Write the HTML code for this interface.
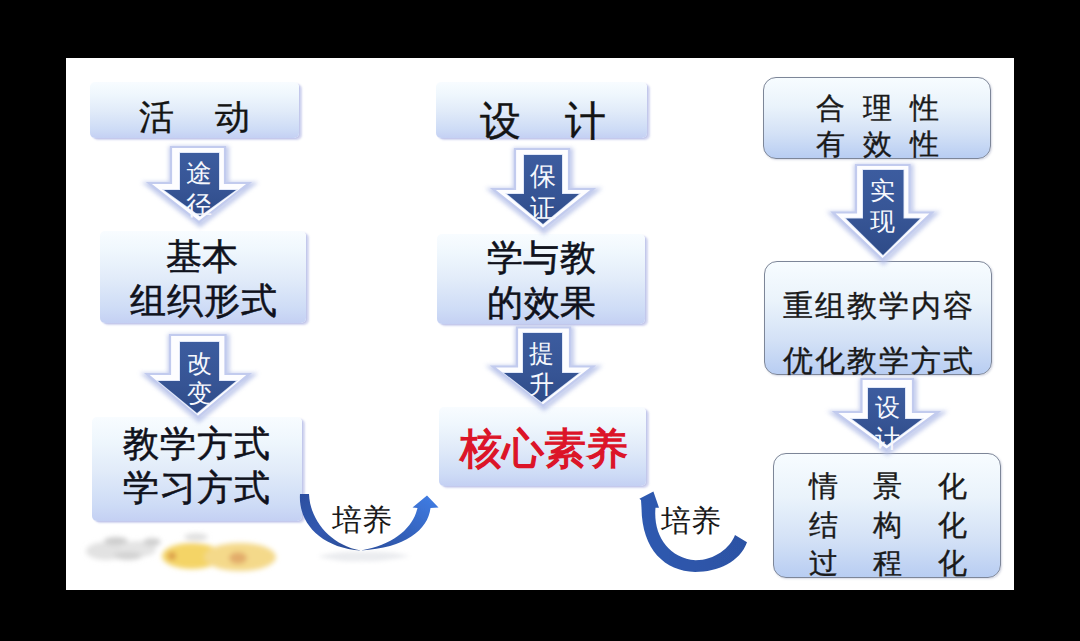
<!DOCTYPE html>
<html><head><meta charset="utf-8"><style>
html,body{margin:0;padding:0}
body{width:1080px;height:641px;background:#000;position:relative;overflow:hidden;font-family:"Liberation Sans",sans-serif}
.slide{position:absolute;left:66px;top:58px;width:948px;height:532px;background:#fff}
.bx{position:absolute;border-radius:5px;background:linear-gradient(180deg,#f8fcff 0%,#eff7fd 22%,#e1ebf9 52%,#cedcf6 84%,#c4d0f3 100%);box-shadow:3px 2px 2px rgba(150,158,220,0.42),1px 1px 1px rgba(170,180,230,0.35)}
.rb{position:absolute;box-sizing:border-box;border-radius:13px;border:1.6px solid #7d8698;background:linear-gradient(180deg,#f7fcff 0%,#eaf3fb 35%,#d3e1f6 70%,#b8cdf2 100%);box-shadow:1px 1px 2px rgba(120,130,170,0.3)}
.tx{position:absolute;white-space:nowrap;z-index:3}
.rg{font-weight:400}
.lt{font-weight:400;-webkit-text-stroke:0.35px currentColor}
.md{font-weight:400;-webkit-text-stroke:0.55px currentColor}
.bd{font-weight:400;-webkit-text-stroke:1.3px currentColor}
.at{position:absolute;color:#f6f8fd;white-space:nowrap;z-index:3}
svg{position:absolute;left:0;top:0}
</style></head><body>
<div class="slide"></div>
<svg width="1080" height="641" style="z-index:0">
<defs>
<filter id="blur4" x="-50%" y="-50%" width="200%" height="200%"><feGaussianBlur stdDeviation="4"/></filter>
<filter id="blur2" x="-50%" y="-50%" width="200%" height="200%"><feGaussianBlur stdDeviation="2.5"/></filter>
</defs>
<g filter="url(#blur2)">
<ellipse cx="106" cy="551" rx="20" ry="9" fill="#e2e2e2"/>
<ellipse cx="116" cy="541" rx="12" ry="4" fill="#cdcdcd"/>
<ellipse cx="138" cy="549" rx="18" ry="8" fill="#e4e4e4"/>
<ellipse cx="128" cy="556" rx="14" ry="4" fill="#d2d2d2"/>
<ellipse cx="152" cy="542" rx="9" ry="4" fill="#d0d0d0"/>
<ellipse cx="196" cy="537" rx="12" ry="3.5" fill="#dedede"/>
<ellipse cx="192" cy="556" rx="30" ry="13" fill="#f4d466"/>
<ellipse cx="240" cy="557" rx="36" ry="14" fill="#f4d98a"/>
<ellipse cx="172" cy="556" rx="4" ry="4" fill="#d99a48"/>
<ellipse cx="238" cy="558" rx="9" ry="6" fill="#e2ac6a"/>
</g>
</svg>
<div class="bx" style="left:90px;top:82px;width:209px;height:56px"></div><div class="bx" style="left:100px;top:231px;width:206px;height:92px"></div><div class="bx" style="left:92px;top:417px;width:210px;height:104px"></div><div class="bx" style="left:436px;top:82px;width:211px;height:56px"></div><div class="bx" style="left:437px;top:234px;width:208px;height:90px"></div><div class="bx" style="left:439px;top:407px;width:207px;height:79px"></div><div class="rb" style="left:763px;top:77px;width:228px;height:82px"></div><div class="rb" style="left:764px;top:261px;width:228px;height:114px"></div><div class="rb" style="left:773px;top:453px;width:228px;height:125px"></div>
<svg width="1080" height="641" style="z-index:1">
<defs>
<filter id="glow" x="-30%" y="-30%" width="160%" height="160%"><feGaussianBlur stdDeviation="2.2"/></filter>
<filter id="soft" x="-30%" y="-30%" width="160%" height="160%"><feGaussianBlur stdDeviation="0.6"/></filter>
<linearGradient id="ag" x1="0" y1="0" x2="0" y2="1"><stop offset="0" stop-color="#3c5c9f"/><stop offset="0.6" stop-color="#365494"/><stop offset="1" stop-color="#2e4b88"/></linearGradient>
<linearGradient id="cg1" x1="0" y1="1" x2="0.8" y2="0"><stop offset="0" stop-color="#2a4d9c"/><stop offset="1" stop-color="#3f7ae0"/></linearGradient>
<linearGradient id="cg0" x1="0" y1="0" x2="1" y2="1"><stop offset="0" stop-color="#2c4fa0"/><stop offset="0.5" stop-color="#3158b0"/><stop offset="1" stop-color="#2a4a90"/></linearGradient>
<linearGradient id="cg2" x1="0" y1="0" x2="1" y2="0"><stop offset="0" stop-color="#2f5ab0"/><stop offset="1" stop-color="#2c52a4"/></linearGradient>
</defs>
<path d="M171,147 L225,147 L225,183 L249,183 L199.0,222 L149,183 L171,183 Z" fill="none" stroke="#b4bfe8" stroke-width="6" filter="url(#glow)" opacity="0.8" transform="translate(1,2)"/><path d="M171,147 L225,147 L225,183 L249,183 L199.0,222 L149,183 L171,183 Z" fill="#fdfdff" stroke="#c2cbee" stroke-width="2.2"/><path d="M180,153 L219,153 L219,190 L236,190 L200.0,216 L164,190 L180,190 Z" fill="none" stroke="#d6e0f6" stroke-width="1.5"/><path d="M180,153 L219,153 L219,190 L236,190 L200.0,216 L164,190 L180,190 Z" fill="url(#ag)"/><path d="M170,335 L225.5,335 L225.5,374 L249,374 L198.0,417 L147,374 L170,374 Z" fill="none" stroke="#b4bfe8" stroke-width="6" filter="url(#glow)" opacity="0.8" transform="translate(1,2)"/><path d="M170,335 L225.5,335 L225.5,374 L249,374 L198.0,417 L147,374 L170,374 Z" fill="#fdfdff" stroke="#c2cbee" stroke-width="2.2"/><path d="M180,342 L219,342 L219,381 L236,381 L197.0,413 L158,381 L180,381 Z" fill="none" stroke="#d6e0f6" stroke-width="1.5"/><path d="M180,342 L219,342 L219,381 L236,381 L197.0,413 L158,381 L180,381 Z" fill="url(#ag)"/><path d="M515,149 L569,149 L569,189 L593,189 L543.0,229 L493,189 L515,189 Z" fill="none" stroke="#b4bfe8" stroke-width="6" filter="url(#glow)" opacity="0.8" transform="translate(1,2)"/><path d="M515,149 L569,149 L569,189 L593,189 L543.0,229 L493,189 L515,189 Z" fill="#fdfdff" stroke="#c2cbee" stroke-width="2.2"/><path d="M524,155 L562,155 L562,194 L579,194 L543.0,224 L507,194 L524,194 Z" fill="none" stroke="#d6e0f6" stroke-width="1.5"/><path d="M524,155 L562,155 L562,194 L579,194 L543.0,224 L507,194 L524,194 Z" fill="url(#ag)"/><path d="M517,327.5 L570,327.5 L570,366.5 L593,366.5 L543.0,405.5 L493,366.5 L517,366.5 Z" fill="none" stroke="#b4bfe8" stroke-width="6" filter="url(#glow)" opacity="0.8" transform="translate(1,2)"/><path d="M517,327.5 L570,327.5 L570,366.5 L593,366.5 L543.0,405.5 L493,366.5 L517,366.5 Z" fill="#fdfdff" stroke="#c2cbee" stroke-width="2.2"/><path d="M523,333 L562,333 L562,373 L579,373 L541.5,402 L504,373 L523,373 Z" fill="none" stroke="#d6e0f6" stroke-width="1.5"/><path d="M523,333 L562,333 L562,373 L579,373 L541.5,402 L504,373 L523,373 Z" fill="url(#ag)"/><path d="M856,165 L909.5,165 L909.5,212.5 L932,212.5 L882.5,259.6 L833,212.5 L856,212.5 Z" fill="none" stroke="#b4bfe8" stroke-width="6" filter="url(#glow)" opacity="0.8" transform="translate(1,2)"/><path d="M856,165 L909.5,165 L909.5,212.5 L932,212.5 L882.5,259.6 L833,212.5 L856,212.5 Z" fill="#fdfdff" stroke="#c2cbee" stroke-width="2.2"/><path d="M863,170 L903.5,170 L903.5,218.5 L920,218.5 L883.0,255 L846,218.5 L863,218.5 Z" fill="none" stroke="#d6e0f6" stroke-width="1.5"/><path d="M863,170 L903.5,170 L903.5,218.5 L920,218.5 L883.0,255 L846,218.5 L863,218.5 Z" fill="url(#ag)"/><path d="M861.5,379 L913,379 L913,412 L938,412 L886.5,450 L835,412 L861.5,412 Z" fill="none" stroke="#b4bfe8" stroke-width="6" filter="url(#glow)" opacity="0.8" transform="translate(1,2)"/><path d="M861.5,379 L913,379 L913,412 L938,412 L886.5,450 L835,412 L861.5,412 Z" fill="#fdfdff" stroke="#c2cbee" stroke-width="2.2"/><path d="M868,388 L905,388 L905,419 L922,419 L887.0,445 L852,419 L868,419 Z" fill="none" stroke="#d6e0f6" stroke-width="1.5"/><path d="M868,388 L905,388 L905,419 L922,419 L887.0,445 L852,419 L868,419 Z" fill="url(#ag)"/>
<path d="M318,556 C335,552 350,551 362,552 C378,551 395,552 410,556 C390,560 375,562 362,561 C345,562 330,560 318,556 Z" fill="#9aa0b0" opacity="0.2" filter="url(#glow)"/>
<g filter="url(#soft)">
<path d="M300,494 L309,494 C310,520 330,545 361,550.5 C320,548 298,522 300,494 Z" fill="url(#cg0)"/>
<path d="M361,550.5 C392,545 410,530 416,513 L417.5,508 L412.5,507.5 L427,495.5 L438.5,507.5 L430.5,508 C428,530 405,548 361,550.5 Z" fill="url(#cg1)"/>
<path d="M639.4,498.8 L653.4,491.4 L659,507.7 L655.5,507.7 C653,535 668,558 695.6,560.3 C715,560 730,548 735,535 L747,542.3 C740,562 718,572 695,572 C665,571 642,550 641.5,508 L641,500 Z" fill="url(#cg2)"/>
</g>
</svg>
<div class="at" style="left:186px;top:160px;font-size:26px;line-height:26px">途</div><div class="at" style="left:186px;top:192px;font-size:26px;line-height:26px">径</div><div class="at" style="left:187px;top:351px;font-size:25px;line-height:25px">改</div><div class="at" style="left:187px;top:381px;font-size:25px;line-height:25px">变</div><div class="at" style="left:530px;top:163px;font-size:26px;line-height:26px">保</div><div class="at" style="left:530px;top:195px;font-size:26px;line-height:26px">证</div><div class="at" style="left:529px;top:341px;font-size:25px;line-height:25px">提</div><div class="at" style="left:529px;top:372px;font-size:25px;line-height:25px">升</div><div class="at" style="left:870px;top:178px;font-size:25px;line-height:25px">实</div><div class="at" style="left:870px;top:209px;font-size:25px;line-height:25px">现</div><div class="at" style="left:875px;top:395px;font-size:25px;line-height:25px">设</div><div class="at" style="left:875px;top:426px;font-size:25px;line-height:25px">计</div>
<div class="tx lt" style="left:139px;top:98.5px;font-size:35px;line-height:35px;color:#141414;letter-spacing:41px">活动</div><div class="tx md" style="left:166px;top:239px;font-size:36px;line-height:36px;color:#10121c;letter-spacing:0px">基本</div><div class="tx md" style="left:129.5px;top:282.5px;font-size:36px;line-height:36px;color:#10121c;letter-spacing:1px">组织形式</div><div class="tx md" style="left:123px;top:426px;font-size:36px;line-height:36px;color:#10121c;letter-spacing:1px">教学方式</div><div class="tx md" style="left:123px;top:470px;font-size:36px;line-height:36px;color:#10121c;letter-spacing:1px">学习方式</div><div class="tx lt" style="left:480px;top:101px;font-size:41px;line-height:41px;color:#141414;letter-spacing:43.5px">设计</div><div class="tx md" style="left:486.5px;top:240px;font-size:36px;line-height:36px;color:#10121c;letter-spacing:0.5px">学与教</div><div class="tx md" style="left:487px;top:284.5px;font-size:36px;line-height:36px;color:#10121c;letter-spacing:0.5px">的效果</div><div class="tx bd" style="left:459.5px;top:427.5px;font-size:42px;line-height:42px;color:#dc1428;letter-spacing:0px">核心素养</div><div class="tx lt" style="left:815.5px;top:94.3px;font-size:29px;line-height:29px;color:#1a1a1a;letter-spacing:18px">合理性</div><div class="tx lt" style="left:815.5px;top:130.3px;font-size:29px;line-height:29px;color:#1a1a1a;letter-spacing:18px">有效性</div><div class="tx lt" style="left:783px;top:290.5px;font-size:30px;line-height:30px;color:#1a1a1a;letter-spacing:2.1px">重组教学内容</div><div class="tx lt" style="left:783px;top:345.8px;font-size:30px;line-height:30px;color:#1a1a1a;letter-spacing:2.1px">优化教学方式</div><div class="tx lt" style="left:808.8px;top:471.8px;font-size:28.5px;line-height:28.5px;color:#1a1a1a;letter-spacing:35.5px">情景化</div><div class="tx lt" style="left:808.8px;top:511.2px;font-size:28.5px;line-height:28.5px;color:#1a1a1a;letter-spacing:35.5px">结构化</div><div class="tx lt" style="left:808.8px;top:548.8px;font-size:28.5px;line-height:28.5px;color:#1a1a1a;letter-spacing:35.5px">过程化</div><div class="tx rg" style="left:331.5px;top:504.7px;font-size:30px;line-height:30px;color:#1a1a1a;letter-spacing:0px">培养</div><div class="tx rg" style="left:661px;top:505.6px;font-size:30px;line-height:30px;color:#1a1a1a;letter-spacing:0px">培养</div>
</body></html>
